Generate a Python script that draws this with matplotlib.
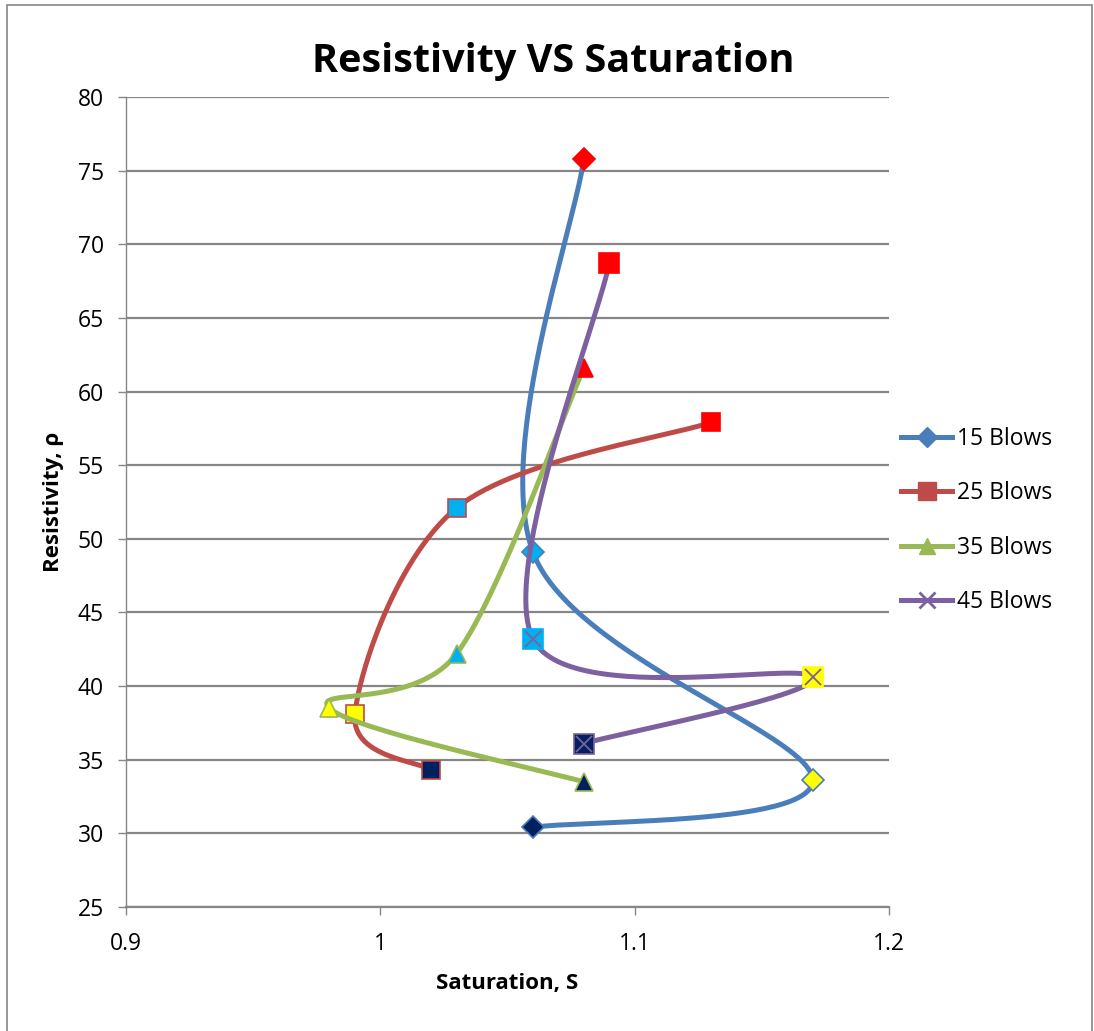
import matplotlib
matplotlib.use("Agg")
import matplotlib.pyplot as plt
from matplotlib.lines import Line2D
from matplotlib.patches import Rectangle
import numpy as np

plt.rcParams['font.family'] = ['Open Sans', 'DejaVu Sans']

# saturation / resistivity readings per compaction effort
sat_15 = [1.08, 1.06, 1.17, 1.06]
res_15 = [75.8, 49.1, 33.6, 30.4]
sat_25 = [1.13, 1.03, 0.99, 1.02]
res_25 = [57.9, 52.1, 38.1, 34.3]
sat_35 = [1.08, 1.03, 0.98, 1.08]
res_35 = [61.6, 42.2, 38.5, 33.5]
sat_45 = [1.09, 1.06, 1.17, 1.08]
res_45 = [68.7, 43.2, 40.6, 36.1]

labels = ['15 Blows', '25 Blows', '35 Blows', '45 Blows']
line_colors = ['#4A7EBB', '#BE4B48', '#98B954', '#7D60A0']
markers = ['D', 's', '^', 's']
marker_sizes = [11, 13, 13, 14]
# per-point fill colours used on every series
point_fills = ['#FF0000', '#00B0F0', '#FFFF00', '#002060']

fig = plt.figure(figsize=(10.94, 10.31), dpi=100)
ax = fig.add_axes([0.1152, 0.1203, 0.6974, 0.7856])
ax.set_xlim(0.9, 1.2)
ax.set_ylim(25, 80)


def smooth(ax, xs, ys, n=60):
    # Excel style smoothed line: cubic bezier with 1/6 tangents in screen space
    pts = ax.transData.transform(np.column_stack([xs, ys]))
    out = [pts[0]]
    m = len(pts)
    for i in range(m - 1):
        p0 = pts[max(i - 1, 0)]
        p1 = pts[i]
        p2 = pts[i + 1]
        p3 = pts[min(i + 2, m - 1)]
        c1 = p1 + (p2 - p0) / 6.0
        c2 = p2 - (p3 - p1) / 6.0
        t = np.linspace(0, 1, n)[1:, None]
        seg = ((1 - t) ** 3) * p1 + 3 * ((1 - t) ** 2) * t * c1 + 3 * (1 - t) * t ** 2 * c2 + t ** 3 * p2
        out.extend(seg)
    out = ax.transData.inverted().transform(np.array(out))
    return out[:, 0], out[:, 1]


series = [(sat_15, res_15), (sat_25, res_25), (sat_35, res_35), (sat_45, res_45)]
for k, (xs, ys) in enumerate(series):
    sx, sy = smooth(ax, xs, ys)
    ax.plot(sx, sy, color=line_colors[k], lw=3.6, solid_capstyle='round', zorder=3 + k)
    for j in range(len(xs)):
        edge = point_fills[j] if j == 0 else line_colors[k]
        if k == 3 and j < 3:
            edge = point_fills[j]
        ax.plot(xs[j], ys[j], marker=markers[k], ms=marker_sizes[k], color=point_fills[j],
                mec=edge, mew=1.2, zorder=3.5 + k)
        if k == 3 and j > 0:
            ax.plot(xs[j], ys[j], marker='x', ms=marker_sizes[k] - 2, color=line_colors[k],
                    mew=1.3, zorder=3.6 + k)

ax.set_yticks(np.arange(25, 81, 5))
ax.set_xticks([0.9, 1.0, 1.1, 1.2])
ax.set_xticklabels(['0.9', '1', '1.1', '1.2'])
ax.grid(axis='y', color='#868686', lw=1.6)
ax.set_axisbelow(True)
for s in ['top', 'right']:
    ax.spines[s].set_visible(False)
ax.spines['left'].set_color('#868686')
ax.spines['left'].set_linewidth(1.0)
ax.spines['bottom'].set_color('#868686')
ax.spines['bottom'].set_linewidth(1.6)
ax.tick_params(axis='both', colors='#868686', labelcolor='black', labelsize=16.5,
               length=6, width=1.0)
ax.tick_params(axis='y', pad=10)
ax.tick_params(axis='x', pad=12)

fig.suptitle('Resistivity VS Saturation', x=0.506, y=0.94, fontsize=28.5,
             fontweight='bold', va='center')
ax.set_xlabel('Saturation, S', fontsize=16, fontweight='bold', labelpad=12)
ax.set_ylabel('Resistivity, ρ', fontsize=16, fontweight='bold', labelpad=10)

handles = []
for k in range(4):
    handles.append(Line2D([0], [0], color=line_colors[k], lw=3.6, marker=['D', 's', '^', 'x'][k],
                          ms=[10, 13, 12, 12][k], mew=[1, 1, 1, 2][k],
                          mfc=line_colors[k], mec=line_colors[k]))
leg = fig.legend(handles, labels, loc='upper left', bbox_to_anchor=(0.805, 0.606),
                 frameon=False, fontsize=16.5, handlelength=2.2, labelspacing=1.33,
                 handletextpad=0.25)

# outer chart border
fig.patches.append(Rectangle((7 / 1094, -0.02), 1085 / 1094, 1.02 - 5 / 1031,
                             transform=fig.transFigure, fill=False,
                             edgecolor='#868686', lw=1.2))

fig.savefig('out.png', dpi=100)
